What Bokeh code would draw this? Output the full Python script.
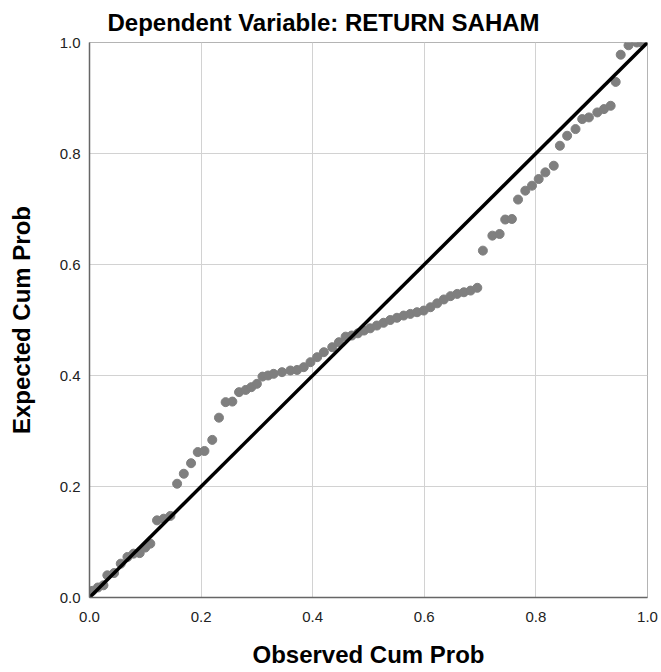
from bokeh.plotting import figure
from bokeh.models import Range1d, FixedTicker, PrintfTickFormatter
from bokeh.embed import file_html
from bokeh.resources import INLINE

# Observed cumulative probability (x) and expected cumulative probability (y)
observed = [0.005, 0.015, 0.025, 0.032, 0.044, 0.056, 0.068, 0.079, 0.090, 0.100,
            0.109, 0.121, 0.133, 0.145, 0.157, 0.169, 0.182, 0.194, 0.206, 0.220,
            0.232, 0.244, 0.256, 0.268, 0.280, 0.290, 0.300, 0.310, 0.320, 0.330,
            0.345, 0.360, 0.372, 0.384, 0.396, 0.408, 0.420, 0.435, 0.447, 0.459,
            0.470, 0.481, 0.492, 0.503, 0.515, 0.527, 0.539, 0.551, 0.563, 0.575,
            0.587, 0.599, 0.611, 0.623, 0.635, 0.647, 0.659, 0.671, 0.683, 0.695,
            0.705, 0.722, 0.735, 0.745, 0.757, 0.768, 0.781, 0.793, 0.805, 0.817,
            0.832, 0.843, 0.856, 0.871, 0.883, 0.895, 0.910, 0.922, 0.934, 0.943,
            0.952, 0.966, 0.981, 0.990]
expected = [0.012, 0.018, 0.022, 0.040, 0.044, 0.061, 0.073, 0.079, 0.080, 0.090,
            0.097, 0.139, 0.142, 0.147, 0.205, 0.223, 0.242, 0.262, 0.264, 0.284,
            0.324, 0.352, 0.353, 0.370, 0.374, 0.379, 0.385, 0.398, 0.400, 0.403,
            0.406, 0.409, 0.410, 0.415, 0.424, 0.433, 0.442, 0.451, 0.460, 0.470,
            0.472, 0.476, 0.481, 0.485, 0.490, 0.495, 0.500, 0.504, 0.508, 0.511,
            0.514, 0.517, 0.523, 0.530, 0.537, 0.543, 0.547, 0.550, 0.553, 0.558,
            0.625, 0.652, 0.655, 0.681, 0.682, 0.717, 0.733, 0.742, 0.754, 0.766,
            0.778, 0.814, 0.832, 0.844, 0.862, 0.865, 0.874, 0.880, 0.886, 0.929,
            0.978, 0.995, 1.000, 1.000]

ref_line_x = [0.0, 1.0]
ref_line_y = [0.0, 1.0]
ticks = [0.0, 0.2, 0.4, 0.6, 0.8, 1.0]

FONT = "Liberation Sans"

p = figure(width=659, height=672, output_backend="svg", toolbar_location=None,
           x_range=Range1d(0, 1), y_range=Range1d(0, 1),
           min_border_left=89, min_border_right=12, min_border_top=42, min_border_bottom=75,
           title="Dependent Variable: RETURN SAHAM")

p.title.text_font = FONT
p.title.text_font_size = "24px"
p.title.text_font_style = "bold"
p.title.text_color = "#000000"
p.title.align = "left"
p.title.offset = 18
p.title.standoff = 13

p.outline_line_color = "#b4b4b4"
p.outline_line_width = 1
p.background_fill_color = "white"
p.border_fill_color = "white"

for ax in (p.xaxis[0], p.yaxis[0]):
    ax.ticker = FixedTicker(ticks=ticks)
    ax.formatter = PrintfTickFormatter(format="%.1f")
    ax.major_tick_out = 0
    ax.major_tick_in = 0
    ax.minor_tick_out = 0
    ax.minor_tick_in = 0
    ax.axis_line_color = "#666666"
    ax.axis_line_width = 1.5
    ax.major_label_text_font = FONT
    ax.major_label_text_font_size = "15px"
    ax.major_label_text_color = "#222222"
    ax.axis_label_text_font = FONT
    ax.axis_label_text_font_size = "24px"
    ax.axis_label_text_font_style = "bold"
    ax.axis_label_text_color = "#000000"

p.xaxis.axis_label = "Observed Cum Prob"
p.yaxis.axis_label = "Expected Cum Prob"
p.xaxis.major_label_standoff = 14
p.yaxis.major_label_standoff = 9
p.xaxis.axis_label_standoff = 16
p.yaxis.axis_label_standoff = 22

p.xgrid.grid_line_color = "#d2d2d2"
p.ygrid.grid_line_color = "#d2d2d2"
p.xgrid.grid_line_width = 1
p.ygrid.grid_line_width = 1

p.scatter(observed, expected, size=9, fill_color="#7f7f7f", line_color="#7f7f7f")
p.line(ref_line_x, ref_line_y, line_color="#000000", line_width=3.5)

open("out.html", "w").write(file_html(p, INLINE))
